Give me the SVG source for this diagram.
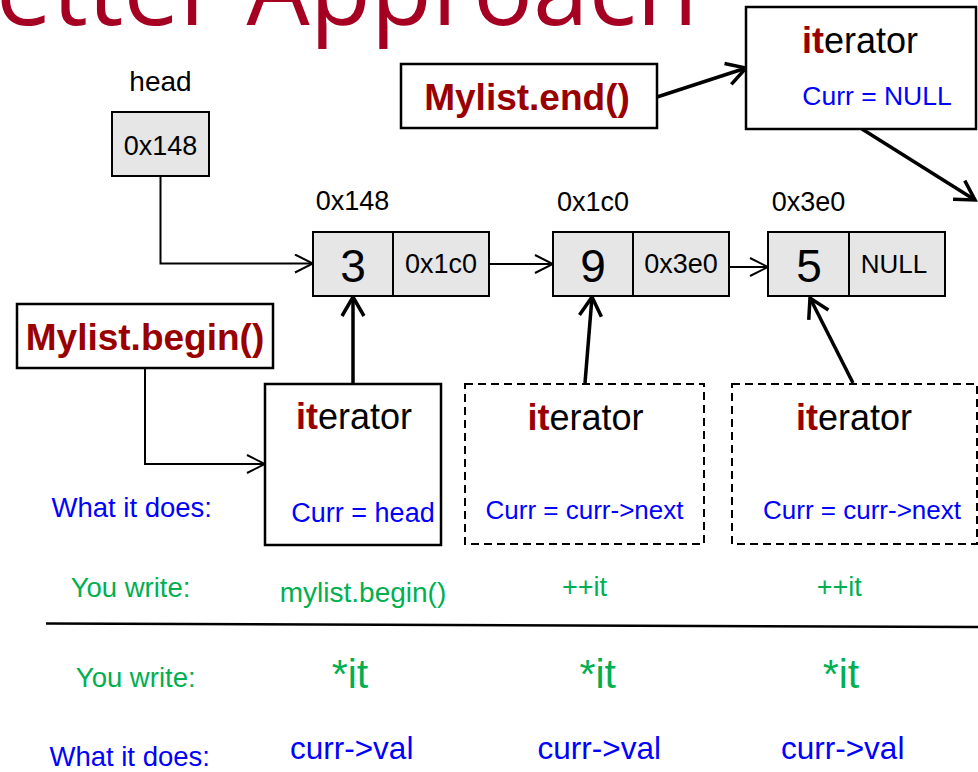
<svg xmlns="http://www.w3.org/2000/svg" width="978" height="772" viewBox="0 0 978 772">
<style>
text{font-family:"Liberation Sans",Arial,sans-serif;}
.mid{text-anchor:middle;}
.node{fill:#e6e6e6;stroke:#000;stroke-width:2;}
.box{fill:#fff;stroke:#000;stroke-width:2.5;}
.dash{fill:#fff;stroke:#000;stroke-width:2;stroke-dasharray:8 5;}
.lbl{font-size:27px;fill:#000;}
.big{font-size:46px;fill:#000;}
.call{font-size:37px;font-weight:bold;fill:#990000;}
.it{font-size:36px;fill:#000;}
.red{font-weight:bold;fill:#990000;}
.blue{fill:#0000ff;}
.green{fill:#00b050;}
.thin{fill:none;stroke:#000;stroke-width:2;}
.thick{fill:none;stroke:#000;stroke-width:3.5;}
</style>
<defs>
<marker id="open" markerUnits="userSpaceOnUse" viewBox="0 0 20 20" refX="19" refY="10" markerWidth="20" markerHeight="20" orient="auto">
<path d="M1,1 L19,10 L1,19" fill="none" stroke="#000" stroke-width="2"/>
</marker>
<marker id="openThick" markerUnits="userSpaceOnUse" viewBox="0 0 24 26" refX="21" refY="13" markerWidth="24" markerHeight="26" orient="auto">
<path d="M2,2 L21,13 L2,24" fill="none" stroke="#000" stroke-width="3.5"/>
</marker>
</defs>
<rect width="978" height="772" fill="#fff"/>

<text x="-4" y="25" style="font-family:'Open Sans','Noto Sans',sans-serif;font-size:100px;fill:#a50021;">etter Approach</text>

<g id="connectors">
<path class="thin" d="M160.5,176 V263.5 H313" marker-end="url(#open)"/>
<path class="thin" d="M489,264 H553" marker-end="url(#open)"/>
<path class="thin" d="M729,267 H768" marker-end="url(#open)"/>
<path class="thin" d="M145,368 V464 H265" marker-end="url(#open)"/>
<path class="thick" d="M353,384 V297" marker-end="url(#openThick)"/>
<path class="thick" d="M585,383 L592,297" marker-end="url(#openThick)"/>
<path class="thick" d="M853,383 L810,298" marker-end="url(#openThick)"/>
<path class="thick" d="M657,97 L746,68" marker-end="url(#openThick)"/>
<path class="thick" d="M862,129 L975,200" marker-end="url(#openThick)"/>
</g>

<g id="head">
<text class="mid" x="160.5" y="90.5" style="font-size:28px">head</text>
<rect class="node" x="112" y="112" width="97" height="64"/>
<text class="lbl mid" x="160.5" y="155">0x148</text>
</g>

<g id="node1">
<text class="lbl mid" x="352.5" y="210">0x148</text>
<rect class="node" x="313" y="232" width="176" height="64"/>
<line x1="393" y1="232" x2="393" y2="296" stroke="#000" stroke-width="2"/>
<text class="big mid" x="353" y="282">3</text>
<text class="lbl mid" x="441" y="273">0x1c0</text>
</g>

<g id="node2">
<text class="lbl mid" x="593" y="210.5">0x1c0</text>
<rect class="node" x="553" y="232" width="176" height="64"/>
<line x1="633" y1="232" x2="633" y2="296" stroke="#000" stroke-width="2"/>
<text class="big mid" x="593" y="282">9</text>
<text class="lbl mid" x="681" y="273">0x3e0</text>
</g>

<g id="node3">
<text class="lbl mid" x="808.5" y="210.5">0x3e0</text>
<rect class="node" x="768" y="232" width="177" height="64"/>
<line x1="849" y1="232" x2="849" y2="296" stroke="#000" stroke-width="2"/>
<text class="big mid" x="809" y="282">5</text>
<text class="mid" x="894" y="273" style="font-size:26px">NULL</text>
</g>

<g id="mylist-end">
<rect class="box" x="401" y="64" width="256" height="64"/>
<text class="call mid" x="527" y="110">Mylist.end()</text>
</g>

<g id="iterator-end">
<rect class="box" x="746" y="7" width="230" height="122"/>
<text class="it mid" x="860" y="53"><tspan class="red">it</tspan>erator</text>
<text class="blue mid" x="877" y="105" style="font-size:26.5px">Curr = NULL</text>
</g>

<g id="mylist-begin">
<rect class="box" x="17" y="304" width="256" height="64"/>
<text class="call mid" x="145" y="350">Mylist.begin()</text>
</g>

<g id="iterator1">
<rect class="box" x="265" y="384" width="176" height="161"/>
<text class="it mid" x="354" y="428.5"><tspan class="red">it</tspan>erator</text>
<text class="blue mid" x="363" y="521.5" style="font-size:27px">Curr = head</text>
</g>

<g id="iterator2">
<rect class="dash" x="465" y="384" width="239" height="160"/>
<text class="it mid" x="585.5" y="430"><tspan class="red">it</tspan>erator</text>
<text class="blue mid" x="584.5" y="518.5" style="font-size:26px">Curr = curr-&gt;next</text>
</g>

<g id="iterator3">
<rect class="dash" x="732" y="384" width="245" height="160"/>
<text class="it mid" x="854" y="430"><tspan class="red">it</tspan>erator</text>
<text class="blue mid" x="862" y="518.5" style="font-size:26px">Curr = curr-&gt;next</text>
</g>

<g id="table">
<text class="blue" x="51.5" y="517" style="font-size:27.5px">What it does:</text>
<text class="green mid" x="130.5" y="597.3" style="font-size:27.5px">You write:</text>
<text class="green mid" x="363" y="601.7" style="font-size:28px">mylist.begin()</text>
<text class="green mid" x="584.5" y="596" style="font-size:27px">++it</text>
<text class="green mid" x="839.2" y="596" style="font-size:27px">++it</text>
<line x1="46" y1="623.5" x2="978" y2="627" stroke="#000" stroke-width="2.5"/>
<text class="green mid" x="135.7" y="686.7" style="font-size:27.5px">You write:</text>
<text class="green mid" x="350" y="688.3" style="font-size:41px">*it</text>
<text class="green mid" x="597.7" y="688.3" style="font-size:41px">*it</text>
<text class="green mid" x="841" y="688.3" style="font-size:41px">*it</text>
<text class="blue mid" x="129.7" y="766" style="font-size:27.5px">What it does:</text>
<text class="blue mid" x="351.7" y="759.3" style="font-size:31.5px">curr-&gt;val</text>
<text class="blue mid" x="599.3" y="759.3" style="font-size:31.5px">curr-&gt;val</text>
<text class="blue mid" x="842.7" y="759.3" style="font-size:31.5px">curr-&gt;val</text>
</g>
</svg>
